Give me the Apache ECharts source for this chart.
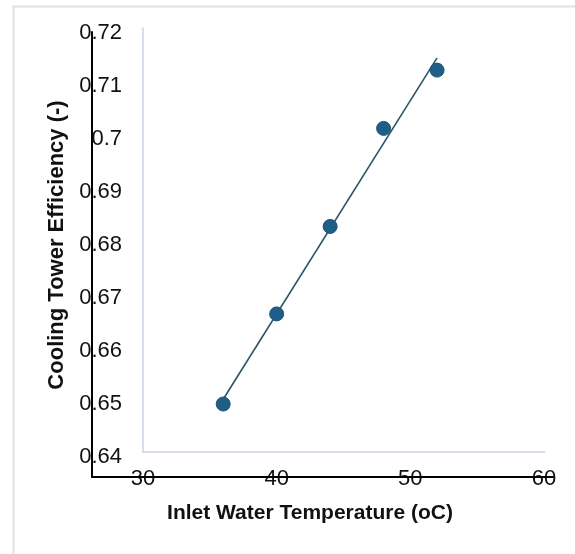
<!DOCTYPE html>
<html>
<head>
<meta charset="utf-8">
<script src="https://cdn.jsdelivr.net/npm/echarts@6/dist/echarts.min.js"></script>
<style>
html,body{margin:0;padding:0;background:#fff;}
#chart{width:575px;height:554px;}
</style>
</head>
<body>
<div id="chart"></div>
<script>
// Data
const inletTemp = [36, 40, 44, 48, 52];
const efficiency = [0.650, 0.667, 0.6835, 0.702, 0.713];
const xTickLabels = ['30', '40', '50', '60'];
const yTickLabels = ['0.64', '0.65', '0.66', '0.67', '0.68', '0.69', '0.7', '0.71', '0.72'];
const xTitle = 'Inlet Water Temperature (oC)';
const yTitle = 'Cooling Tower Efficiency (-)';

// Linear trendline (least squares) from the data
const n = inletTemp.length;
const mx = inletTemp.reduce((a, b) => a + b, 0) / n;
const my = efficiency.reduce((a, b) => a + b, 0) / n;
let sxy = 0, sxx = 0;
for (let i = 0; i < n; i++) {
  sxy += (inletTemp[i] - mx) * (efficiency[i] - my);
  sxx += (inletTemp[i] - mx) * (inletTemp[i] - mx);
}
const slope = sxy / sxx;
const intercept = my - slope * mx;
const xMinD = Math.min(...inletTemp), xMaxD = Math.max(...inletTemp);
const trend = [[xMinD, intercept + slope * xMinD], [xMaxD, intercept + slope * xMaxD]];

const FONT = '"Liberation Sans", Arial, Helvetica, sans-serif';
const chart = echarts.init(document.getElementById('chart'), null, {renderer: 'canvas'});

const option = {
  backgroundColor: '#ffffff',
  animation: false,
  graphic: [{
    type: 'rect', left: 11, top: 4, silent: true,
    shape: {width: 700, height: 700},
    style: {fill: 'none', stroke: '#dde2e8', lineWidth: 2},
    z: -10
  }],
  grid: [
    {left: 143, right: 31, top: 33, bottom: 97},   // data grid
    {left: 143, right: 30, top: 28, bottom: 102},  // light plot-area frame
    {left: 92, right: 22, top: 32, bottom: 77}     // black axis lines
  ],
  xAxis: [
    {
      gridIndex: 0, type: 'value', min: 30, max: 60, interval: 10,
      axisLine: {show: false}, axisTick: {show: false}, splitLine: {show: false},
      axisLabel: {
        margin: 11, fontSize: 22, color: '#111', fontFamily: FONT,
        formatter: (v) => xTickLabels[Math.round((v - 30) / 10)] ?? ''
      },
      name: xTitle, nameLocation: 'middle', nameGap: 46,
      nameTextStyle: {fontSize: 21, fontWeight: 'bold', color: '#111', fontFamily: FONT, padding: [0, 67, 0, 0]}
    },
    {
      gridIndex: 1, type: 'value', min: 0, max: 1,
      axisLine: {show: true, lineStyle: {color: '#c7d6e4', width: 1.5}},
      axisTick: {show: false}, axisLabel: {show: false}, splitLine: {show: false}
    },
    {
      gridIndex: 2, type: 'value', min: 0, max: 1, z: 10,
      axisLine: {show: true, lineStyle: {color: '#000', width: 2}},
      axisTick: {show: false}, axisLabel: {show: false}, splitLine: {show: false}
    }
  ],
  yAxis: [
    {
      gridIndex: 0, type: 'value', min: 0.64, max: 0.72, interval: 0.01,
      axisLine: {show: false}, axisTick: {show: false}, splitLine: {show: false},
      axisLabel: {
        margin: 21, fontSize: 22, color: '#111', fontFamily: FONT,
        formatter: (v) => yTickLabels[Math.round((v - 0.64) / 0.01)] ?? ''
      },
      name: yTitle, nameLocation: 'middle', nameGap: 75, nameRotate: 90,
      nameTextStyle: {fontSize: 22, fontWeight: 'bold', color: '#111', fontFamily: FONT}
    },
    {
      gridIndex: 1, type: 'value', min: 0, max: 1,
      axisLine: {show: true, lineStyle: {color: '#c7d6e4', width: 1.5}},
      axisTick: {show: false}, axisLabel: {show: false}, splitLine: {show: false}
    },
    {
      gridIndex: 2, type: 'value', min: 0, max: 1, z: 10,
      axisLine: {show: true, lineStyle: {color: '#000', width: 2}},
      axisTick: {show: false}, axisLabel: {show: false}, splitLine: {show: false}
    }
  ],
  series: [
    {
      type: 'line', xAxisIndex: 0, yAxisIndex: 0,
      data: trend, showSymbol: false, symbol: 'none',
      lineStyle: {color: '#2d5566', width: 1.6}, z: 2
    },
    {
      type: 'scatter', xAxisIndex: 0, yAxisIndex: 0,
      data: inletTemp.map((x, i) => [x, efficiency[i]]),
      symbol: 'circle', symbolSize: 14,
      itemStyle: {color: '#1f5f87', borderColor: '#1a5279', borderWidth: 1, opacity: 1},
      z: 3
    }
  ]
};
chart.setOption(option);
</script>
</body>
</html>
